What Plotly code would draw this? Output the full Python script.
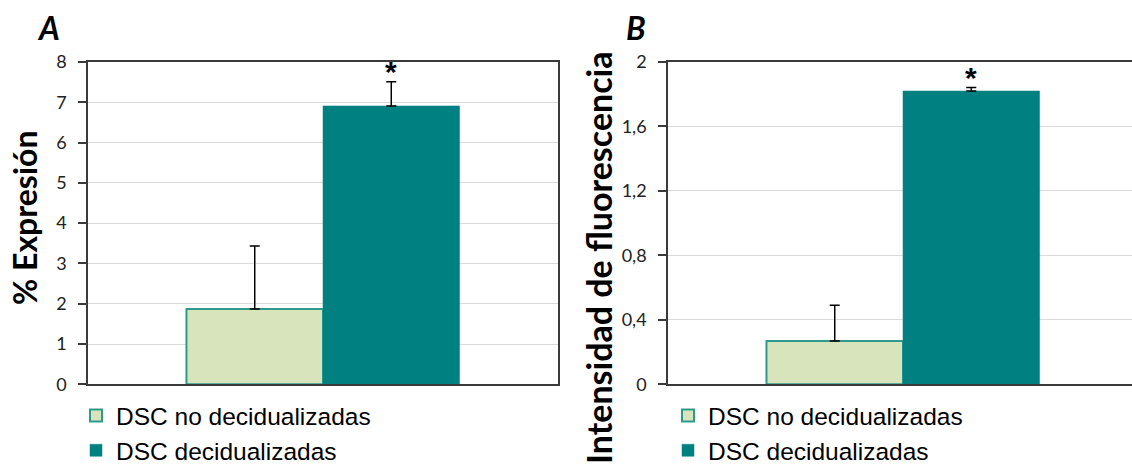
import plotly.graph_objects as go

# ---------------- data ----------------
categories = ["DSC"]
series_names = ["DSC no decidualizadas", "DSC decidualizadas"]
a_values = [1.87, 6.91]
a_errors = [1.56, 0.60]
b_values = [0.268, 1.82]
b_errors = [0.223, 0.021]
a_tickvals = [0, 1, 2, 3, 4, 5, 6, 7, 8]
a_ticktext = ["0", "1", "2", "3", "4", "5", "6", "7", "8"]
b_tickvals = [0, 0.4, 0.8, 1.2, 1.6, 2]
b_ticktext = ["0", "0,4", "0,8", "1,2", "1,6", "2"]
significant = [False, True]

# ---------------- style ----------------
W, H = 1132, 464
BARGAP = 0.419
fills = ["#D8E4BC", "#008080"]
lines = ["#2E9A8C", "#008080"]
line_w = [2, 0.5]
axis_col = "#3a3a3a"
grid_col = "#D9D9D9"
tick_font = dict(family="Lato, Calibri, sans-serif", size=18, color="#222")
leg_font = dict(family="Liberation Sans, Arial, sans-serif", size=24.5, color="#000")

def px_x(p):
    return p / W

def px_y(p):
    return 1 - p / H

fig = go.Figure()

panels = [
    ("x", "y", a_values, a_errors, "legend"),
    ("x2", "y2", b_values, b_errors, "legend2"),
]
for xa, ya, vals, errs, leg in panels:
    for i, name in enumerate(series_names):
        fig.add_trace(go.Bar(
            x=categories, y=[vals[i]], name=name,
            xaxis=xa, yaxis=ya, legend=leg,
            marker=dict(color=fills[i], line=dict(color=lines[i], width=line_w[i])),
            error_y=dict(type="data", symmetric=False, array=[errs[i]], arrayminus=[0],
                         color="black", thickness=1.5, width=5),
        ))

# domains
ax_top, ax_bot = 62, 384.3
a_left, a_right = 88, 558
b_left = 668
cat_px = a_right - a_left
b_span = (W - b_left) / cat_px

common_x = dict(showticklabels=False, showgrid=False, ticks="", zeroline=False,
                showline=True, linecolor=axis_col, linewidth=1.5, mirror=True,
                type="category", automargin=False)
common_y = dict(showgrid=True, gridcolor=grid_col, gridwidth=1, zeroline=False,
                showline=True, linecolor=axis_col, linewidth=1.5,
                ticks="outside", ticklen=8, tickcolor=axis_col, tickwidth=1.5,
                tickfont=tick_font, ticklabelstandoff=8, automargin=False)

fig.update_layout(
    width=W, height=H, margin=dict(l=0, r=0, t=0, b=0, autoexpand=False),
    paper_bgcolor="white", plot_bgcolor="white",
    barmode="group", bargap=BARGAP, bargroupgap=0,
    showlegend=True,
    xaxis=dict(domain=[px_x(a_left), px_x(a_right)], range=[-0.5, 0.5], anchor="y", **common_x),
    yaxis=dict(domain=[px_y(ax_bot), px_y(ax_top)], range=[0, 8], anchor="x",
               tickvals=a_tickvals, ticktext=a_ticktext, mirror=True, **common_y),
    xaxis2=dict(domain=[px_x(b_left), 1], range=[-0.5, -0.5 + b_span], anchor="y2", **common_x),
    yaxis2=dict(domain=[px_y(ax_bot), px_y(ax_top)], range=[0, 2], anchor="x2",
                tickvals=b_tickvals, ticktext=b_ticktext, mirror=False, **common_y),
    legend=dict(x=px_x(76), y=px_y(393), xanchor="left", yanchor="top",
                font=leg_font, bgcolor="rgba(0,0,0,0)", tracegroupgap=0, itemwidth=30),
    legend2=dict(x=px_x(668), y=px_y(393), xanchor="left", yanchor="top",
                 font=leg_font, bgcolor="rgba(0,0,0,0)", tracegroupgap=0, itemwidth=30),
)

# significance asterisks
offset = (1 - BARGAP) / 4
for xr, yr, vals, errs in [("x", "y", a_values, a_errors), ("x2", "y2", b_values, b_errors)]:
    for i, sig in enumerate(significant):
        if sig:
            xpos = (-offset if i == 0 else offset)
            fig.add_annotation(x=xpos, y=vals[i] + errs[i], xref=xr, yref=yr,
                               text="<b>*</b>", showarrow=False, yanchor="bottom",
                               yshift=-8,
                               font=dict(family="Liberation Sans, Arial, sans-serif", size=30, color="#000"))

# axis titles
fig.add_annotation(x=px_x(24), y=px_y(218), xref="paper", yref="paper",
                   text="<b>% Expresión</b>", textangle=-90, showarrow=False,
                   xanchor="center", yanchor="middle",
                   font=dict(family="Lato, Calibri, sans-serif", size=32, color="#000"))
fig.add_annotation(x=px_x(598), y=px_y(258), xref="paper", yref="paper",
                   text="<b>Intensidad de fluorescencia</b>", textangle=-90, showarrow=False,
                   xanchor="center", yanchor="middle",
                   font=dict(family="Lato, Calibri, sans-serif", size=34, color="#000"))

# panel letters
letter_font = dict(family="Lato, Calibri, sans-serif", size=32, color="#000")
for lbl, cx in [("A", 48), ("B", 636)]:
    fig.add_annotation(x=px_x(cx), y=px_y(27), xref="paper", yref="paper",
                       text=f"<b><i>{lbl}</i></b>", showarrow=False,
                       xanchor="center", yanchor="middle", font=letter_font)

fig.write_html("out.html")
